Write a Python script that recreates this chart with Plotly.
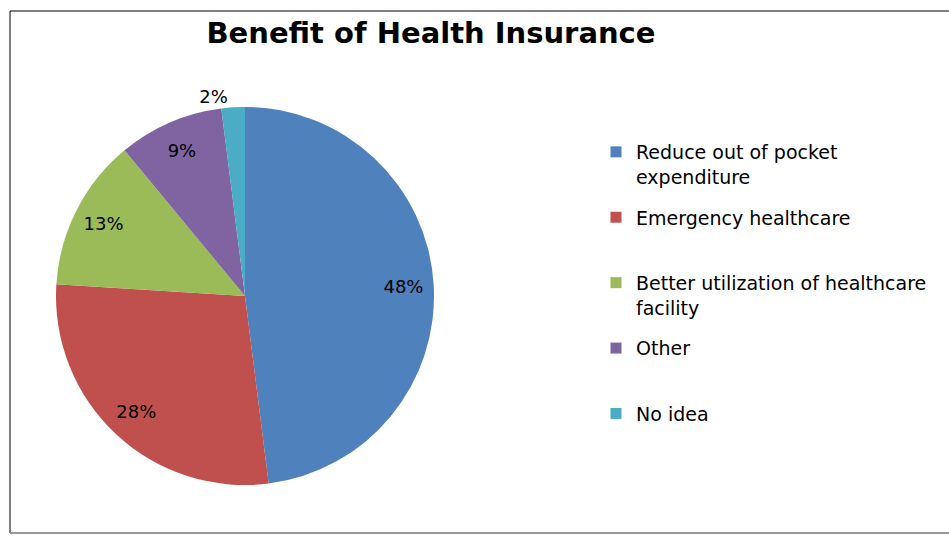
import plotly.graph_objects as go

categories = ["Reduce out of pocket expenditure", "Emergency healthcare",
              "Better utilization of healthcare facility", "Other", "No idea"]
legend_labels = ["Reduce out of pocket<br>expenditure", "Emergency healthcare<br> ",
                 "Better utilization of healthcare<br>facility", "Other<br> ", "No idea<br> "]
values = [48, 28, 13, 9, 2]
colors = ["#4F81BD", "#C0504D", "#9BBB59", "#8064A2", "#4BACC6"]
text_positions = ["inside", "inside", "inside", "inside", "outside"]

W, H = 949, 536
cx, cy, r = 245, 296, 189
domain = dict(x=[(cx - r) / W, (cx + r) / W], y=[(H - cy - r) / H, (H - cy + r) / H])
FONT = "DejaVu Sans"

fig = go.Figure()
# filled pie
fig.add_trace(go.Pie(
    labels=categories, values=values, sort=False, direction="clockwise", rotation=0,
    marker=dict(colors=colors, line=dict(color="white", width=0)),
    textinfo="none", domain=domain, showlegend=False,
))
# transparent ring carrying the percentage labels further out
fig.add_trace(go.Pie(
    labels=categories, values=values, sort=False, direction="clockwise", rotation=0,
    hole=0.68,
    marker=dict(colors=["rgba(0,0,0,0)"] * len(values), line=dict(width=0)),
    texttemplate="%{percent:.0%}", textposition=text_positions,
    insidetextorientation="horizontal",
    textfont=dict(family=FONT, size=18, color="black"),
    outsidetextfont=dict(family=FONT, size=18, color="black"),
    domain=domain, showlegend=False, hoverinfo="skip",
))
# legend entries
for lab, col in zip(legend_labels, colors):
    fig.add_trace(go.Scatter(
        x=[None], y=[None], mode="markers", name=lab, legendgroup=lab,
        marker=dict(symbol="square", size=11, color=col, line=dict(width=0)),
    ))

fig.update_layout(
    width=W, height=H,
    margin=dict(l=0, r=0, t=0, b=0),
    paper_bgcolor="white", plot_bgcolor="white",
    font=dict(family=FONT, color="black"),
    xaxis=dict(visible=False), yaxis=dict(visible=False),
    title=dict(text="<b>Benefit of Health Insurance</b>", x=431 / W, xanchor="center",
               y=1 - 33 / H, yanchor="middle",
               font=dict(family=FONT, size=29, color="black")),
    legend=dict(x=596 / W, xanchor="left", y=1 - 133 / H, yanchor="top",
                valign="top", font=dict(family=FONT, size=19, color="black"),
                tracegroupgap=13, itemwidth=30, bgcolor="rgba(0,0,0,0)"),
    shapes=[
        dict(type="line", xref="paper", yref="paper", x0=10 / W, x1=1, y0=1 - 11 / H, y1=1 - 11 / H,
             line=dict(color="black", width=1)),
        dict(type="line", xref="paper", yref="paper", x0=10 / W, x1=10 / W, y0=1 - 11 / H, y1=1 - 533 / H,
             line=dict(color="black", width=1)),
        dict(type="line", xref="paper", yref="paper", x0=10 / W, x1=1, y0=1 - 533 / H, y1=1 - 533 / H,
             line=dict(color="#999999", width=2)),
    ],
)

fig.write_html("out.html", config={"displayModeBar": False},
               post_script="document.body.style.margin='0';document.body.style.overflow='hidden';")
